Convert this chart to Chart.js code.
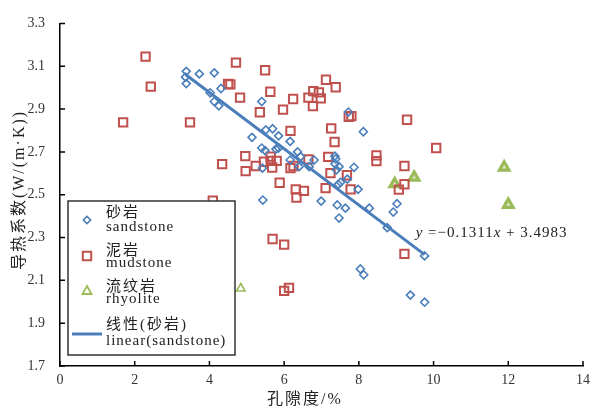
<!DOCTYPE html>
<html>
<head>
<meta charset="utf-8">
<script src="https://cdn.jsdelivr.net/npm/chart.js@4.4.1/dist/chart.umd.min.js"></script>
<style>
  html, body { margin: 0; padding: 0; background: #fff; }
  #wrap { width: 596px; height: 412px; }
</style>
</head>
<body>
<div id="wrap"><canvas id="chart" width="596" height="412"></canvas></div>
<script>
// ---------- Data ----------
const sandstoneX = [3.38, 3.36, 3.38, 3.73, 4.13, 4.31, 4.02, 4.13, 4.25,
  5.40, 5.14, 5.51, 5.69, 5.85, 6.16, 5.40, 5.49, 5.78, 5.85, 6.36, 6.44, 6.80, 6.16,
  6.40, 6.67, 5.42, 7.36, 7.38, 7.36, 7.47, 7.40, 7.87, 7.72, 8.12, 7.69, 7.51, 7.45,
  7.98, 5.43, 6.99, 7.42, 7.64, 7.47, 8.28, 9.02, 8.92, 8.76, 9.76, 8.04, 8.13, 9.38, 9.76];
const sandstoneY = [3.076, 3.049, 3.019, 3.064, 3.069, 2.996, 2.976, 2.935, 2.915,
  2.935, 2.768, 2.803, 2.808, 2.775, 2.749, 2.718, 2.706, 2.713, 2.718, 2.700, 2.678, 2.662, 2.662,
  2.631, 2.631, 2.624, 2.680, 2.667, 2.644, 2.631, 2.616, 2.628, 2.886, 2.794, 2.573, 2.558, 2.548,
  2.525, 2.475, 2.470, 2.452, 2.437, 2.391, 2.437, 2.458, 2.419, 2.346, 2.214, 2.153, 2.126, 2.031, 1.998];

const mudstoneX = [2.29, 2.43, 1.69, 3.48, 4.34, 4.71, 4.50, 4.56, 4.82, 5.49, 5.63, 6.24,
  7.12, 7.38, 6.78, 6.93, 6.65, 6.98, 6.77, 5.97, 5.35, 7.73, 7.80, 9.29, 6.17, 7.26,
  7.35, 4.96, 5.64, 5.46, 5.64, 5.80, 5.24, 5.68, 4.97, 6.17, 6.25, 6.65, 7.18, 7.24,
  7.68, 8.47, 8.47, 9.22, 9.22, 9.07, 5.88, 6.31, 6.53, 6.33, 7.11, 7.78, 10.07, 4.09,
  5.69, 6.00, 9.22, 6.00, 6.13];
const mudstoneY = [3.145, 3.005, 2.838, 2.838, 2.643, 3.117, 3.017, 3.015, 2.953, 3.081, 2.981, 2.947,
  3.037, 3.002, 2.984, 2.978, 2.953, 2.950, 2.914, 2.897, 2.885, 2.864, 2.867, 2.850, 2.798, 2.810,
  2.746, 2.680, 2.678, 2.654, 2.658, 2.658, 2.634, 2.627, 2.610, 2.624, 2.634, 2.665, 2.677, 2.601,
  2.591, 2.684, 2.657, 2.634, 2.549, 2.524, 2.556, 2.525, 2.518, 2.487, 2.531, 2.525, 2.718, 2.472,
  2.293, 2.267, 2.224, 2.051, 2.065];

const rhyoliteX = [4.84, 8.96, 9.48, 11.89, 12.00];
const rhyoliteY = [2.062, 2.550, 2.581, 2.628, 2.454];

// fitted line endpoints as drawn in the figure
const trendX = [3.37, 9.76];
const trendY = [3.060, 2.220];

const xTicks = [0, 2, 4, 6, 8, 10, 12, 14];
const yTicks = [1.7, 1.9, 2.1, 2.3, 2.5, 2.7, 2.9, 3.1, 3.3];

const xTitle = '孔隙度/%';
const yTitle = '导热系数(W/(m·K))';
const equation = ['y', ' =−0.1311', 'x', ' + 3.4983'];
const legendItems = [
  { zh: '砂岩', en: 'sandstone', kind: 'diamond' },
  { zh: '泥岩', en: 'mudstone', kind: 'square' },
  { zh: '流纹岩', en: 'rhyolite', kind: 'triangle' },
  { zh: '线性(砂岩)', en: 'linear(sandstone)', kind: 'line' }
];

// ---------- Style ----------
const BLUE = '#4a7ebb';
const RED = '#c0504d';
const GREEN = '#9bbb59';
const SERIF = '"Liberation Serif", "Times New Roman", "Noto Sans CJK SC", serif';

const pts = (xs, ys) => xs.map((x, i) => ({ x, y: ys[i] }));

function marker(ctx, kind, cx, cy) {
  ctx.beginPath();
  if (kind === 'diamond') {
    ctx.strokeStyle = BLUE; ctx.lineWidth = 1.6;
    ctx.moveTo(cx, cy - 3.6); ctx.lineTo(cx + 3.6, cy); ctx.lineTo(cx, cy + 3.6); ctx.lineTo(cx - 3.6, cy); ctx.closePath();
  } else if (kind === 'square') {
    ctx.strokeStyle = RED; ctx.lineWidth = 2;
    ctx.rect(cx - 4.2, cy - 4.2, 8.4, 8.4);
  } else if (kind === 'triangle') {
    ctx.strokeStyle = GREEN; ctx.lineWidth = 1.8;
    ctx.moveTo(cx, cy - 5); ctx.lineTo(cx + 4.5, cy + 3); ctx.lineTo(cx - 4.5, cy + 3); ctx.closePath();
  } else {
    ctx.strokeStyle = BLUE; ctx.lineWidth = 3;
    ctx.moveTo(cx - 15, cy); ctx.lineTo(cx + 15, cy);
  }
  ctx.stroke();
}

// ---------- Decorations: inner ticks, titles, legend, equation ----------
const decor = {
  id: 'decor',
  afterDraw(chart) {
    const { ctx, chartArea: a, scales: { x, y } } = chart;
    ctx.save();

    // tick marks point into the plot
    ctx.strokeStyle = '#000';
    ctx.lineWidth = 1.5;
    ctx.beginPath();
    x.ticks.forEach(t => {
      const p = x.getPixelForValue(t.value);
      ctx.moveTo(p, a.bottom); ctx.lineTo(p, a.bottom - 5);
    });
    y.ticks.forEach(t => {
      const p = y.getPixelForValue(t.value);
      ctx.moveTo(a.left, p); ctx.lineTo(a.left + 5, p);
    });
    ctx.stroke();

    // axis titles
    ctx.fillStyle = '#222';
    ctx.font = '16px ' + SERIF;
    ctx.letterSpacing = '2px';
    ctx.textAlign = 'center';
    ctx.textBaseline = 'middle';
    ctx.fillText(xTitle, 305, 400);
    ctx.save();
    ctx.translate(20, 190);
    ctx.rotate(-Math.PI / 2);
    ctx.fillText(yTitle, 0, 0);
    ctx.restore();

    // legend
    const box = { l: 68, t: 201, r: 235, b: 355 };
    ctx.fillStyle = '#fff';
    ctx.fillRect(box.l, box.t, box.r - box.l, box.b - box.t);
    ctx.strokeStyle = '#333';
    ctx.lineWidth = 1.5;
    ctx.strokeRect(box.l, box.t, box.r - box.l, box.b - box.t);
    const rows = [
      { zh: 213, en: 227, m: 220 },
      { zh: 251, en: 263, m: 256 },
      { zh: 287, en: 299, m: 291 },
      { zh: 325, en: 341, m: 334 }
    ];
    legendItems.forEach((it, i) => {
      const r = rows[i];
      marker(ctx, it.kind, 87, r.m);
      ctx.fillStyle = '#222';
      ctx.textAlign = 'left';
      ctx.textBaseline = 'middle';
      ctx.font = '15px ' + SERIF;
      ctx.letterSpacing = '2px';
      ctx.fillText(it.zh, 106, r.zh);
      ctx.letterSpacing = '1px';
      ctx.fillText(it.en, 106, r.en);
    });

    // regression equation
    let ex = x.getPixelForValue(9.52);
    const ey = y.getPixelForValue(2.32);
    ctx.fillStyle = '#222';
    ctx.textAlign = 'left';
    ctx.textBaseline = 'middle';
    ctx.letterSpacing = '1px';
    equation.forEach((part, i) => {
      ctx.font = (i % 2 === 0 ? 'italic ' : '') + '15px ' + SERIF;
      ctx.fillText(part, ex, ey);
      ex += ctx.measureText(part).width;
    });

    ctx.restore();
  }
};

// ---------- Chart ----------
const axisFont = { family: SERIF, size: 14 };

new Chart(document.getElementById('chart'), {
  type: 'scatter',
  data: {
    datasets: [
      {
        type: 'line',
        label: 'linear(sandstone)',
        data: pts(trendX, trendY),
        borderColor: BLUE,
        borderWidth: 3,
        pointRadius: 0,
        fill: false,
        order: 0
      },
      {
        label: 'sandstone',
        data: pts(sandstoneX, sandstoneY),
        pointStyle: 'rectRot',
        pointRadius: 4,
        borderColor: BLUE,
        borderWidth: 1.6,
        backgroundColor: 'rgba(0,0,0,0)',
        order: 1
      },
      {
        label: 'mudstone',
        data: pts(mudstoneX, mudstoneY),
        pointStyle: 'rect',
        pointRadius: 5.9,
        borderColor: RED,
        borderWidth: 2,
        backgroundColor: 'rgba(0,0,0,0)',
        order: 2
      },
      {
        label: 'rhyolite',
        data: pts(rhyoliteX, rhyoliteY),
        pointStyle: 'triangle',
        // the low-porosity sample is drawn as a thin outline in the source figure
        pointRadius: c => (c.dataIndex === 0 ? 5 : 5.5),
        borderColor: GREEN,
        borderWidth: c => (c.dataIndex === 0 ? 1.6 : 3.2),
        backgroundColor: c => (c.dataIndex === 0 ? 'rgba(0,0,0,0)' : 'rgba(155,187,89,0.35)'),
        order: 3
      }
    ]
  },
  options: {
    responsive: false,
    animation: false,
    events: [],
    layout: { padding: { top: 15, right: 11, left: 0, bottom: 0 } },
    plugins: {
      legend: { display: false },
      tooltip: { enabled: false }
    },
    scales: {
      x: {
        type: 'linear',
        min: 0,
        max: 14,
        afterBuildTicks: s => { s.ticks = xTicks.map(v => ({ value: v })); },
        afterFit: s => { s.height = 46; },
        ticks: { font: axisFont, color: '#333', padding: 6, maxRotation: 0, callback: v => String(v) },
        grid: { drawOnChartArea: false, drawTicks: false },
        border: { display: true, color: '#000', width: 1.5 }
      },
      y: {
        type: 'linear',
        min: 1.7,
        max: 3.3,
        afterBuildTicks: s => { s.ticks = yTicks.map(v => ({ value: v })); },
        afterFit: s => { s.width = 60; },
        ticks: { font: axisFont, color: '#333', padding: 15, callback: v => v.toFixed(1) },
        grid: { drawOnChartArea: false, drawTicks: false },
        border: { display: true, color: '#000', width: 1.5 }
      }
    }
  },
  plugins: [decor]
});
</script>
</body>
</html>
